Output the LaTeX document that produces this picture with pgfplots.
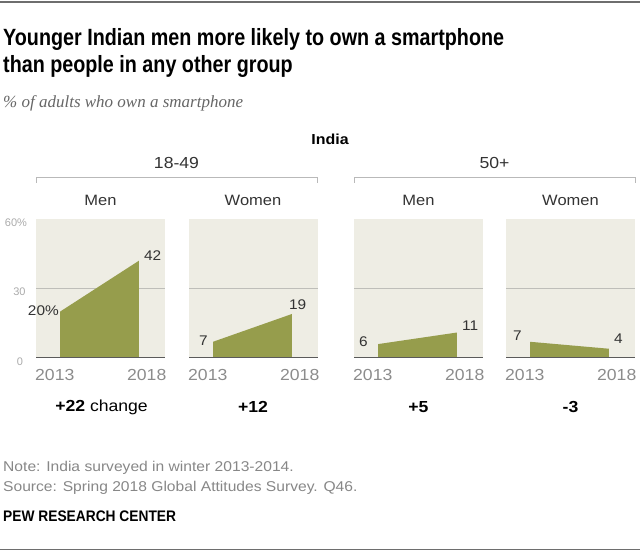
\documentclass[border=0pt]{standalone}
\usepackage{pgfplots}
\pgfplotsset{compat=1.18}
\usepackage{fontspec}
\setmainfont{Liberation Sans}[FakeStretch=1.1]
\newfontfamily\plainfont{Liberation Sans}
\newfontfamily\titlefont[FakeStretch=0.84]{Liberation Sans}
\newfontfamily\pewfont[FakeStretch=0.9]{Liberation Sans}
\newfontfamily\subfont{Liberation Serif}
\definecolor{bgc}{RGB}{238,237,228}
\definecolor{olivec}{RGB}{150,157,76}
\definecolor{gridc}{RGB}{190,190,185}
\definecolor{axc}{RGB}{90,90,90}
\definecolor{labc}{RGB}{51,51,51}
\definecolor{yearc}{RGB}{140,140,140}
\definecolor{tickc}{RGB}{170,170,170}
\definecolor{notec}{RGB}{135,135,135}
\definecolor{rulec}{RGB}{110,110,110}
\definecolor{brc}{RGB}{185,185,185}
\tikzset{dl/.style={font=\fontsize{14}{16}\selectfont, text=labc, inner sep=0pt}}
\pgfplotsset{panel/.style={
  width=129pt,height=139pt,scale only axis,
  xmin=2011.48,xmax=2019.65,ymin=0,ymax=60,
  axis background/.style={fill=bgc},
  axis line style={draw=none},
  xtick=\empty, ytick={30}, yticklabels={}, major tick length=0pt,
  ymajorgrids, grid style={gridc, line width=0.8pt},
  clip=false, anchor=south west,
  }}
\begin{document}
\begin{tikzpicture}[x=1pt,y=1pt]
\useasboundingbox (0,0) rectangle (640,-553);
\draw[rulec, line width=1.3pt] (0,-2) -- (640,-2);
\draw[rulec, line width=1.3pt] (0,-549.5) -- (640,-549.5);
% titles
\node[anchor=base west, inner sep=0, font=\titlefont\bfseries\fontsize{23.5}{30}\selectfont] at (3,-45.5) {Younger Indian men more likely to own a smartphone};
\node[anchor=base west, inner sep=0, font=\titlefont\bfseries\fontsize{23.5}{30}\selectfont] at (3,-72.5) {than people in any other group};
\node[anchor=base west, inner sep=0, text=black!60, font=\subfont\itshape\fontsize{17}{20}\selectfont] at (3,-108) {\% of adults who own a smartphone};
\node[inner sep=0, font=\bfseries\fontsize{14.5}{16}\selectfont] at (330,-139) {India};
% brackets
\node[inner sep=0, text=labc, font=\fontsize{16}{18}\selectfont] at (176.5,-163) {18-49};
\node[inner sep=0, text=labc, font=\fontsize{16}{18}\selectfont] at (494.5,-163) {50+};
\draw[brc, line width=1pt] (36,-183) -- (36,-178) -- (317,-178) -- (317,-183);
\draw[brc, line width=1pt] (354,-183) -- (354,-178) -- (635,-178) -- (635,-183);
% panel titles
\foreach \cx/\t in {100.5/Men, 253/Women, 418.5/Men, 570.5/Women}
  \node[inner sep=0, text=labc, font=\fontsize{15}{17}\selectfont] at (\cx,-200) {\t};
% y tick labels
\node[inner sep=0, text=tickc, font=\plainfont\fontsize{11}{13}\selectfont] at (16,-223) {60\%};
\node[inner sep=0, text=tickc, font=\plainfont\fontsize{11}{13}\selectfont] at (19.5,-292) {30};
\node[inner sep=0, text=tickc, font=\plainfont\fontsize{11}{13}\selectfont] at (20,-362) {0};
% panels
\begin{axis}[panel, at={(36pt,-358pt)}]
\addplot[fill=olivec, draw=none] coordinates {(2013,20) (2018,42)} \closedcycle;
\draw[axc, line width=1pt] (rel axis cs:0,0) -- (rel axis cs:1,0);
\node[dl, anchor=east, xshift=-1pt, yshift=1pt] at (axis cs:2013,20) {20\%};
\node[dl, anchor=south west, xshift=5pt, yshift=0pt] at (axis cs:2018,42) {42};
\end{axis}
\begin{axis}[panel, at={(189pt,-358pt)}]
\addplot[fill=olivec, draw=none] coordinates {(2013,7) (2018,19)} \closedcycle;
\draw[axc, line width=1pt] (rel axis cs:0,0) -- (rel axis cs:1,0);
\node[dl, anchor=east, xshift=-5pt, yshift=1pt] at (axis cs:2013,7) {7};
\node[dl, anchor=south west, xshift=-3pt, yshift=4pt] at (axis cs:2018,19) {19};
\end{axis}
\begin{axis}[panel, at={(354pt,-358pt)}]
\addplot[fill=olivec, draw=none] coordinates {(2013,6) (2018,11)} \closedcycle;
\draw[axc, line width=1pt] (rel axis cs:0,0) -- (rel axis cs:1,0);
\node[dl, anchor=east, xshift=-10pt, yshift=2pt] at (axis cs:2013,6) {6};
\node[dl, anchor=south west, xshift=5pt, yshift=2pt] at (axis cs:2018,11) {11};
\end{axis}
\begin{axis}[panel, at={(506pt,-358pt)}]
\addplot[fill=olivec, draw=none] coordinates {(2013,7) (2018,4)} \closedcycle;
\draw[axc, line width=1pt] (rel axis cs:0,0) -- (rel axis cs:1,0);
\node[dl, anchor=east, xshift=-8pt, yshift=6pt] at (axis cs:2013,7) {7};
\node[dl, anchor=south west, xshift=5pt, yshift=5pt] at (axis cs:2018,4) {4};
\end{axis}
% year labels
\foreach \lx in {36,189,354,506}{
  \node[anchor=west, inner sep=0, text=yearc, font=\fontsize{16}{18}\selectfont] at (\lx-1,-375) {2013};
  \node[anchor=east, inner sep=0, text=yearc, font=\fontsize{16}{18}\selectfont] at (\lx+130.5,-375) {2018};
}
% change labels
\node[inner sep=0, text=black, font=\fontsize{16}{18}\selectfont] at (101.5,-407) {\textbf{+22} change};
\node[inner sep=0, text=black, font=\fontsize{16}{18}\selectfont] at (253,-407) {\textbf{+12}};
\node[inner sep=0, text=black, font=\fontsize{16}{18}\selectfont] at (418.5,-407) {\textbf{+5}};
\node[inner sep=0, text=black, font=\fontsize{16}{18}\selectfont] at (570.5,-407) {\textbf{-3}};
% notes
\node[anchor=west, inner sep=0, text=notec, font=\fontsize{14.2}{16}\selectfont] at (3,-468) {Note: India surveyed in winter 2013-2014.};
\node[anchor=west, inner sep=0, text=notec, font=\fontsize{14.2}{16}\selectfont] at (3,-488) {Source: Spring 2018 Global Attitudes Survey. Q46.};
\node[anchor=west, inner sep=0, text=black, font=\pewfont\bfseries\fontsize{15.3}{17}\selectfont] at (3,-516) {PEW RESEARCH CENTER};
\end{tikzpicture}
\end{document}
